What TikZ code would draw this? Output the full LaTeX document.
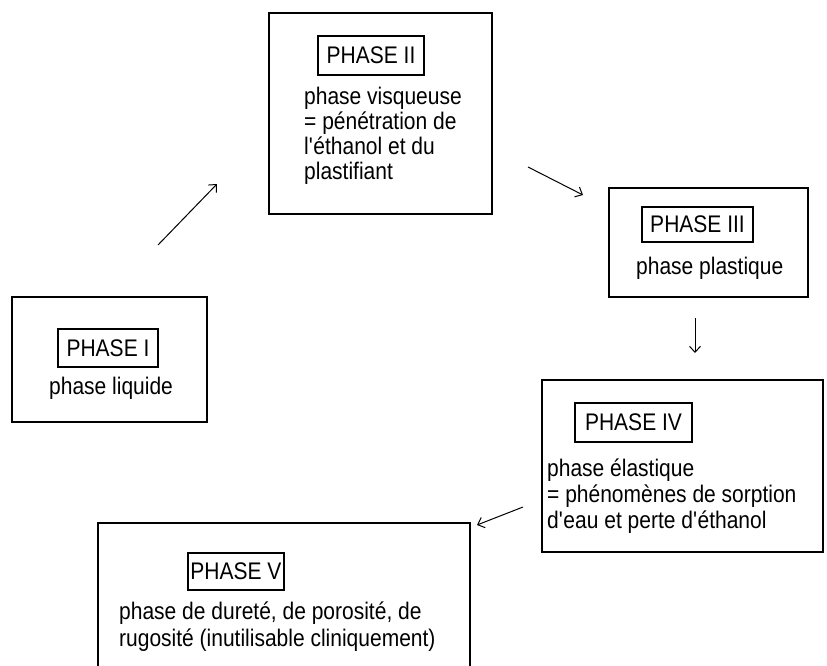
\documentclass[tikz,border=0pt]{standalone}
\usepackage{fontspec}
\setmainfont[FakeStretch=0.875]{Liberation Sans}
\usetikzlibrary{arrows.meta}
\newcommand{\apos}{\textquotesingle}
\tikzset{
  outerbox/.style={draw, line width=1.2pt, inner sep=0pt, rectangle},
  labelbox/.style={draw, line width=1.1pt, inner sep=0pt, rectangle, font=\fontsize{24}{25}\selectfont},
  bodytext/.style={inner sep=0pt, align=left, anchor=base west},
  flow/.style={line width=1pt, -{Straight Barb[length=6pt,width=11pt]}}
}
\begin{document}
\begin{tikzpicture}[x=1pt,y=-1pt]
\useasboundingbox (0,0) rectangle (827,665);
\clip (0,0) rectangle (827,665);
% outer boxes
\node[outerbox, minimum width=195pt, minimum height=125pt] (b1) at (109.5,359.5) {};
\node[outerbox, minimum width=223pt, minimum height=201pt] (b2) at (380.5,113.5) {};
\node[outerbox, minimum width=199pt, minimum height=109pt] (b3) at (708.5,242.5) {};
\node[outerbox, minimum width=281pt, minimum height=172pt] (b4) at (682.5,466) {};
\node[outerbox, minimum width=372pt, minimum height=177pt] (b5) at (284,611.5) {};
% labels
\node[labelbox, minimum width=100pt, minimum height=38pt] (p1) at (108,348) {PHASE I};
\node[labelbox, minimum width=106pt, minimum height=39pt] (p2) at (371,55.5) {PHASE II};
\node[labelbox, minimum width=111pt, minimum height=35pt] (p3) at (697.5,224.5) {PHASE III};
\node[labelbox, minimum width=117pt, minimum height=39pt] (p4) at (633.5,422.5) {PHASE IV};
\node[labelbox, minimum width=96pt, minimum height=37pt] (p5) at (236,571.5) {PHASE V};
% body texts (base anchor = baseline of the last line)
\node[bodytext, font=\fontsize{24}{25}\selectfont] (t1) at (49,394) {phase liquide};
\node[bodytext, font=\fontsize{24}{25}\selectfont] (t2) at (304,179) {phase visqueuse\\= pénétration de\\l\apos éthanol et du\\plastifiant};
\node[bodytext, font=\fontsize{24}{25}\selectfont] (t3) at (636,274) {phase plastique};
\node[bodytext, font=\fontsize{24}{26}\selectfont] (t4) at (547,528) {phase élastique\\= phénomènes de sorption\\d\apos eau et perte d\apos éthanol};
\node[bodytext, font=\fontsize{24}{27}\selectfont] (t5) at (119,646) {phase de dureté, de porosité, de\\rugosité (inutilisable cliniquement)};
% arrows
\coordinate (a1s) at (158,245); \coordinate (a1e) at (217,184);
\coordinate (a2s) at (528,167); \coordinate (a2e) at (583,195);
\coordinate (a3s) at (695,318); \coordinate (a3e) at (695,353);
\coordinate (a4s) at (523,507); \coordinate (a4e) at (477,525);
\draw[flow] (a1s) -- (a1e);
\draw[flow] (a2s) -- (a2e);
\draw[flow] (a3s) -- (a3e);
\draw[flow] (a4s) -- (a4e);
\end{tikzpicture}
\end{document}
